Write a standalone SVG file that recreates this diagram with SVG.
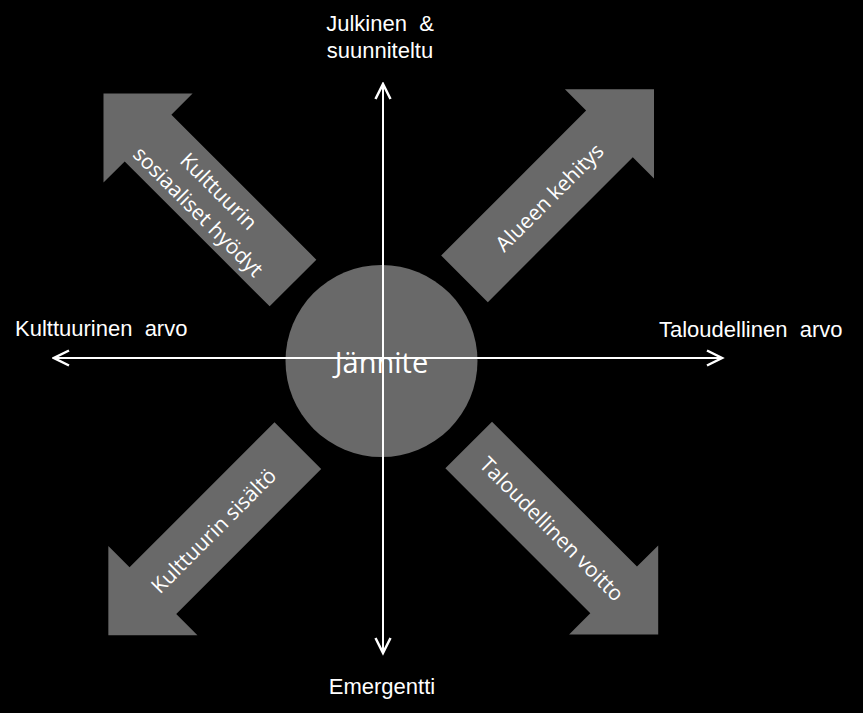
<svg xmlns="http://www.w3.org/2000/svg" xmlns:xlink="http://www.w3.org/1999/xlink" width="863" height="713" viewBox="0 0 863 713">
<style>
.blk{fill:#696969;}
.atxt{font-family:"Open Sans","Noto Sans",sans-serif;font-size:21px;fill:#ffffff;text-anchor:middle;}
.lbl{font-family:"Liberation Sans",Arial,sans-serif;font-size:22px;fill:#ffffff;white-space:pre;}
.axis{stroke:#ffffff;stroke-width:2;fill:none;marker-end:url(#open);}
</style>
<defs>
<path id="arrowShape" d="M0,-33 H205 V-63 L268,0 L205,63 V33 H0 Z"/>
<marker id="open" markerUnits="userSpaceOnUse" markerWidth="20" markerHeight="20" viewBox="-14 -8 16 16" refX="0" refY="0" orient="auto">
<path d="M-12,-6 L0,0 L-12,6" fill="none" stroke="#ffffff" stroke-width="2"/>
</marker>
</defs>
<rect x="0" y="0" width="863" height="713" fill="#000000"/>

<g id="arrow-nw">
<use xlink:href="#arrowShape" href="#arrowShape" class="blk" transform="translate(293,283) rotate(-135)"/>
<g transform="translate(210,200) rotate(45)">
<text class="atxt" x="0" y="-5">Kulttuurin</text>
<text class="atxt" x="0" y="24">sosiaaliset hyödyt</text>
</g>
</g>

<g id="arrow-ne">
<use xlink:href="#arrowShape" href="#arrowShape" class="blk" transform="translate(464.5,278.8) rotate(-45)"/>
<text class="atxt" transform="translate(549,197) rotate(-45)" x="0" y="8">Alueen kehitys</text>
</g>

<g id="arrow-sw">
<use xlink:href="#arrowShape" href="#arrowShape" class="blk" transform="translate(297.85,445.65) rotate(135)"/>
<text class="atxt" transform="translate(213.25,530.25) rotate(-45)" x="0" y="8">Kulttuurin sisältö</text>
</g>

<g id="arrow-se">
<use xlink:href="#arrowShape" href="#arrowShape" class="blk" transform="translate(468.7,445) rotate(45)"/>
<text class="atxt" transform="translate(552.25,528.55) rotate(45)" x="0" y="8">Taloudellinen voitto</text>
</g>

<g id="center">
<circle cx="381.5" cy="361" r="96" fill="#696969"/>
<text x="381.5" y="372.5" font-family="'Open Sans','Noto Sans',sans-serif" font-size="29" fill="#ffffff" text-anchor="middle">Jännite</text>
</g>

<g id="connectors">
<line class="axis" x1="383" y1="358" x2="383" y2="84"/>
<line class="axis" x1="383" y1="358" x2="383" y2="653"/>
<line class="axis" x1="383" y1="358" x2="54" y2="358"/>
<line class="axis" x1="383" y1="358" x2="722" y2="358"/>
</g>

<g id="label-top">
<text class="lbl" x="380" y="31" text-anchor="middle" xml:space="preserve">Julkinen  &amp;</text>
<text class="lbl" x="380" y="58" text-anchor="middle">suunniteltu</text>
</g>
<g id="label-left">
<text class="lbl" x="15" y="336" xml:space="preserve">Kulttuurinen  arvo</text>
</g>
<g id="label-right">
<text class="lbl" x="659" y="336.5" xml:space="preserve">Taloudellinen  arvo</text>
</g>
<g id="label-bottom">
<text class="lbl" x="382" y="694" text-anchor="middle">Emergentti</text>
</g>
</svg>
